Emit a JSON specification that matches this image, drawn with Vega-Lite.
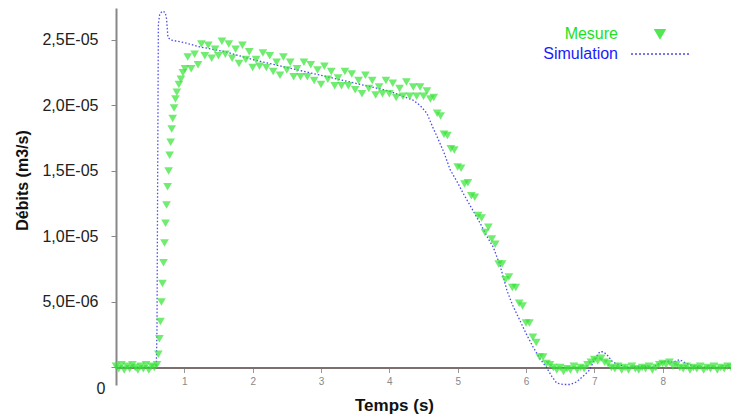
{
  "$schema": "https://vega.github.io/schema/vega-lite/v6.json",
  "width": 615,
  "height": 377,
  "autosize": "none",
  "padding": {"left": 116, "top": 8, "right": 0, "bottom": 34},
  "background": "white",
  "config": {"view": {"stroke": null}, "font": "Liberation Sans"},
  "datasets": {
    "simulation": [
      {"t":0,"q":0},{"t":0.59,"q":0},{"t":0.6,"q":3e-6},{"t":0.61,"q":1.5e-5},{"t":0.62,"q":2.62e-5},{"t":0.64,"q":2.70e-5},{"t":0.68,"q":2.72e-5},{"t":0.72,"q":2.71e-5},{"t":0.74,"q":2.66e-5},{"t":0.76,"q":2.52e-5},{"t":0.8,"q":2.50e-5},{"t":0.9,"q":2.49e-5},{"t":1.0,"q":2.48e-5},{"t":1.2,"q":2.45e-5},{"t":1.4,"q":2.43e-5},{"t":1.6,"q":2.41e-5},{"t":1.8,"q":2.38e-5},{"t":2.0,"q":2.35e-5},{"t":2.5,"q":2.29e-5},{"t":3.0,"q":2.23e-5},{"t":3.5,"q":2.17e-5},{"t":4.0,"q":2.11e-5},{"t":4.2,"q":2.07e-5},{"t":4.35,"q":2.04e-5},{"t":4.45,"q":2.00e-5},{"t":4.55,"q":1.94e-5},{"t":4.63,"q":1.84e-5},{"t":4.7,"q":1.76e-5},{"t":4.8,"q":1.64e-5},{"t":4.89,"q":1.51e-5},{"t":5.0,"q":1.41e-5},{"t":5.08,"q":1.33e-5},{"t":5.2,"q":1.22e-5},{"t":5.33,"q":1.10e-5},{"t":5.45,"q":9.8e-6},{"t":5.52,"q":9.2e-6},{"t":5.62,"q":7.8e-6},{"t":5.72,"q":5.9e-6},{"t":5.8,"q":4.8e-6},{"t":5.91,"q":3.6e-6},{"t":6.0,"q":2.6e-6},{"t":6.1,"q":1.6e-6},{"t":6.2,"q":7e-7},{"t":6.3,"q":0},{"t":6.38,"q":-7e-7},{"t":6.45,"q":-1.2e-6},{"t":6.55,"q":-1.3e-6},{"t":6.65,"q":-1.3e-6},{"t":6.74,"q":-1.1e-6},{"t":6.85,"q":-6e-7},{"t":6.93,"q":-2e-7},{"t":7.0,"q":6e-7},{"t":7.08,"q":1.2e-6},{"t":7.13,"q":1.2e-6},{"t":7.18,"q":1.0e-6},{"t":7.27,"q":4e-7},{"t":7.37,"q":2e-7},{"t":7.5,"q":0},{"t":7.7,"q":1e-7},{"t":7.85,"q":0},{"t":7.95,"q":3e-7},{"t":8.05,"q":5e-7},{"t":8.15,"q":4e-7},{"t":8.25,"q":6e-7},{"t":8.35,"q":3e-7},{"t":8.45,"q":1e-7},{"t":8.6,"q":0},{"t":9.0,"q":0}
    ],
    "mesure": [
      {"t":0,"q":1e-7},{"t":0.04,"q":-1e-7},{"t":0.08,"q":2e-7},{"t":0.12,"q":-2e-7},{"t":0.16,"q":1e-7},{"t":0.2,"q":-1e-7},{"t":0.24,"q":2e-7},{"t":0.28,"q":0},{"t":0.32,"q":-2e-7},{"t":0.36,"q":1e-7},{"t":0.4,"q":-1e-7},{"t":0.44,"q":2e-7},{"t":0.48,"q":-2e-7},{"t":0.52,"q":1e-7},{"t":0.56,"q":0},{"t":0.6,"q":2e-7},
      {"t":0.62,"q":1.0e-6},{"t":0.635,"q":2.2e-6},{"t":0.65,"q":3.5e-6},{"t":0.665,"q":5.0e-6},{"t":0.68,"q":6.4e-6},{"t":0.695,"q":8.0e-6},{"t":0.71,"q":9.5e-6},{"t":0.725,"q":1.10e-5},{"t":0.74,"q":1.24e-5},{"t":0.755,"q":1.38e-5},{"t":0.77,"q":1.50e-5},{"t":0.785,"q":1.62e-5},{"t":0.8,"q":1.72e-5},{"t":0.815,"q":1.82e-5},{"t":0.83,"q":1.90e-5},{"t":0.85,"q":1.98e-5},{"t":0.87,"q":2.05e-5},{"t":0.89,"q":2.10e-5},{"t":0.92,"q":2.16e-5},{"t":0.95,"q":2.20e-5},{"t":0.98,"q":2.25e-5},{"t":1.01,"q":2.28e-5},
      {"t":1.05,"q":2.37e-5},{"t":1.10,"q":2.28e-5},{"t":1.15,"q":2.39e-5},{"t":1.20,"q":2.31e-5},{"t":1.25,"q":2.47e-5},{"t":1.30,"q":2.38e-5},{"t":1.35,"q":2.46e-5},{"t":1.40,"q":2.36e-5},{"t":1.45,"q":2.43e-5},{"t":1.50,"q":2.38e-5},{"t":1.55,"q":2.49e-5},{"t":1.60,"q":2.39e-5},{"t":1.65,"q":2.47e-5},{"t":1.70,"q":2.36e-5},{"t":1.75,"q":2.43e-5},{"t":1.80,"q":2.32e-5},{"t":1.85,"q":2.46e-5},{"t":1.90,"q":2.35e-5},{"t":1.95,"q":2.41e-5},{"t":2.00,"q":2.29e-5},
      {"t":2.05,"q":2.35e-5},{"t":2.10,"q":2.30e-5},{"t":2.15,"q":2.40e-5},{"t":2.20,"q":2.29e-5},{"t":2.25,"q":2.38e-5},{"t":2.30,"q":2.26e-5},{"t":2.35,"q":2.33e-5},{"t":2.40,"q":2.23e-5},{"t":2.45,"q":2.37e-5},{"t":2.50,"q":2.27e-5},{"t":2.55,"q":2.33e-5},{"t":2.60,"q":2.22e-5},{"t":2.65,"q":2.28e-5},{"t":2.70,"q":2.22e-5},{"t":2.75,"q":2.33e-5},{"t":2.80,"q":2.22e-5},{"t":2.85,"q":2.31e-5},{"t":2.90,"q":2.19e-5},{"t":2.95,"q":2.27e-5},{"t":3.00,"q":2.16e-5},
      {"t":3.05,"q":2.30e-5},{"t":3.10,"q":2.20e-5},{"t":3.15,"q":2.26e-5},{"t":3.20,"q":2.15e-5},{"t":3.25,"q":2.21e-5},{"t":3.30,"q":2.15e-5},{"t":3.35,"q":2.26e-5},{"t":3.40,"q":2.15e-5},{"t":3.45,"q":2.24e-5},{"t":3.50,"q":2.12e-5},{"t":3.55,"q":2.19e-5},{"t":3.60,"q":2.09e-5},{"t":3.65,"q":2.23e-5},{"t":3.70,"q":2.13e-5},{"t":3.75,"q":2.19e-5},{"t":3.80,"q":2.08e-5},{"t":3.85,"q":2.14e-5},{"t":3.90,"q":2.09e-5},{"t":3.95,"q":2.19e-5},{"t":4.00,"q":2.09e-5},
      {"t":4.05,"q":2.17e-5},{"t":4.10,"q":2.06e-5},{"t":4.15,"q":2.13e-5},{"t":4.20,"q":2.07e-5},{"t":4.25,"q":2.18e-5},{"t":4.30,"q":2.07e-5},{"t":4.35,"q":2.14e-5},{"t":4.40,"q":2.07e-5},{"t":4.45,"q":2.14e-5},{"t":4.50,"q":2.07e-5},{"t":4.55,"q":2.11e-5},{"t":4.60,"q":2.05e-5},
      {"t":4.65,"q":2.06e-5},{"t":4.70,"q":1.94e-5},{"t":4.75,"q":1.92e-5},{"t":4.80,"q":1.78e-5},{"t":4.85,"q":1.77e-5},{"t":4.90,"q":1.67e-5},{"t":4.95,"q":1.66e-5},{"t":5.00,"q":1.53e-5},{"t":5.05,"q":1.52e-5},{"t":5.10,"q":1.40e-5},{"t":5.15,"q":1.41e-5},{"t":5.20,"q":1.31e-5},{"t":5.25,"q":1.30e-5},{"t":5.30,"q":1.16e-5},{"t":5.35,"q":1.14e-5},{"t":5.40,"q":1.03e-5},{"t":5.45,"q":1.07e-5},{"t":5.50,"q":9.8e-6},{"t":5.55,"q":9.4e-6},{"t":5.60,"q":7.9e-6},{"t":5.65,"q":7.9e-6},{"t":5.70,"q":6.7e-6},{"t":5.75,"q":6.9e-6},{"t":5.80,"q":6.1e-6},{"t":5.85,"q":6.1e-6},{"t":5.90,"q":4.9e-6},{"t":5.95,"q":4.7e-6},{"t":6.00,"q":3.4e-6},{"t":6.05,"q":3.4e-6},{"t":6.10,"q":2.3e-6},{"t":6.15,"q":1.9e-6},{"t":6.20,"q":8e-7},{"t":6.25,"q":8e-7},{"t":6.30,"q":3e-7},{"t":6.35,"q":2e-7},{"t":6.40,"q":0},
      {"t":6.45,"q":-2e-7},{"t":6.5,"q":0},{"t":6.55,"q":-3e-7},{"t":6.6,"q":-1e-7},{"t":6.65,"q":-2e-7},{"t":6.7,"q":1e-7},{"t":6.75,"q":-2e-7},{"t":6.8,"q":0},{"t":6.85,"q":-1e-7},{"t":6.9,"q":2e-7},{"t":6.95,"q":4e-7},{"t":7.0,"q":6e-7},{"t":7.05,"q":5e-7},{"t":7.1,"q":7e-7},{"t":7.15,"q":4e-7},{"t":7.2,"q":3e-7},{"t":7.25,"q":0},{"t":7.3,"q":-1e-7},{"t":7.35,"q":1e-7},{"t":7.4,"q":-2e-7},{"t":7.45,"q":0},{"t":7.5,"q":-2e-7},{"t":7.55,"q":1e-7},{"t":7.6,"q":-1e-7},{"t":7.65,"q":-2e-7},{"t":7.7,"q":0},{"t":7.75,"q":-1e-7},{"t":7.8,"q":1e-7},{"t":7.85,"q":-2e-7},{"t":7.9,"q":0},{"t":7.95,"q":2e-7},{"t":8.0,"q":3e-7},{"t":8.05,"q":2e-7},{"t":8.1,"q":4e-7},{"t":8.15,"q":1e-7},{"t":8.2,"q":2e-7},{"t":8.25,"q":0},{"t":8.3,"q":-1e-7},{"t":8.35,"q":1e-7},{"t":8.4,"q":-2e-7},{"t":8.45,"q":0},{"t":8.5,"q":-1e-7},{"t":8.55,"q":1e-7},{"t":8.6,"q":-2e-7},{"t":8.65,"q":0},{"t":8.7,"q":-1e-7},{"t":8.75,"q":1e-7},{"t":8.8,"q":-2e-7},{"t":8.85,"q":0},{"t":8.9,"q":-1e-7},{"t":8.95,"q":1e-7},{"t":9.0,"q":0}
    ]
  },
  "encoding": {
    "x": {
      "field": "t", "type": "quantitative",
      "scale": {"domain": [0, 9], "nice": false, "zero": false},
      "axis": {
        "values": [1, 2, 3, 4, 5, 6, 7, 8],
        "offset": -17.5,
        "grid": false,
        "domainColor": "#7d6e6e", "domainWidth": 2,
        "tickColor": "#999999", "tickSize": 5, "tickWidth": 1,
        "labelColor": "#888888", "labelFontSize": 10, "labelPadding": 4,
        "title": "Temps (s)", "titleFontSize": 17, "titleFontWeight": "bold", "titleColor": "#111111",
        "titleX": 278, "titleY": 30, "titleBaseline": "top"
      }
    },
    "y": {
      "field": "q", "type": "quantitative",
      "scale": {"domain": [-1.34e-6, 2.744e-5], "nice": false, "zero": false},
      "axis": {
        "values": [0, 5e-6, 1e-5, 1.5e-5, 2e-5, 2.5e-5],
        "labelExpr": "datum.value == 0 ? '0' : (datum.value >= 9.9e-6 ? replace(format(datum.value * 1e5, '.1f'), '.', ',') + 'E-05' : replace(format(datum.value * 1e6, '.1f'), '.', ',') + 'E-06')",
        "grid": false,
        "domainColor": "#888888", "domainWidth": 2,
        "tickColor": "#888888", "tickSize": 5,
        "labelFontSize": 16, "labelColor": "#222222",
        "labelPadding": {"condition": {"test": "datum.value == 0", "value": 6}, "value": 13},
        "labelOffset": {"condition": {"test": "datum.value == 0", "value": 21}, "value": 0},
        "title": "Débits (m3/s)", "titleFontSize": 16, "titleFontWeight": "bold", "titleColor": "#111111",
        "titleX": -86, "titleY": 172
      }
    }
  },
  "layer": [
    {
      "data": {"name": "simulation"},
      "mark": {"type": "line", "strokeDash": [1.5, 2], "strokeWidth": 1.3, "opacity": 0.85},
      "encoding": {
        "color": {
          "datum": "Simulation",
          "scale": {"domain": ["Mesure", "Simulation"], "range": ["#33e433", "#2a2af0"]},
          "legend": {
            "title": null,
            "orient": "none",
            "legendX": 536,
            "legendY": 18,
            "padding": 0,
            "labelFontSize": 16,
            "labelAlign": "right",
            "labelOffset": -50,
            "rowPadding": 4,
            "symbolSize": 100,
            "labelColor": {"expr": "datum.label == 'Mesure' ? '#22e022' : '#1a1aff'"},
            "symbolType": {"expr": "datum.label == 'Mesure' ? 'triangle-down' : 'M-5.8,0H5.8'"},
            "symbolDash": {"expr": "datum.label == 'Mesure' ? [1, 0] : [2, 2]"},
            "symbolFillColor": {"expr": "datum.label == 'Mesure' ? '#22dd22' : 'transparent'"},
            "symbolStrokeColor": {"expr": "datum.label == 'Mesure' ? '#22dd22' : '#4a4ae0'"},
            "symbolStrokeWidth": 1.5
          }
        }
      }
    },
    {
      "data": {"name": "mesure"},
      "mark": {"type": "point", "filled": true, "shape": "triangle-down", "size": 75, "opacity": 0.7},
      "encoding": {
        "color": {"datum": "Mesure"}
      }
    }
  ]
}
